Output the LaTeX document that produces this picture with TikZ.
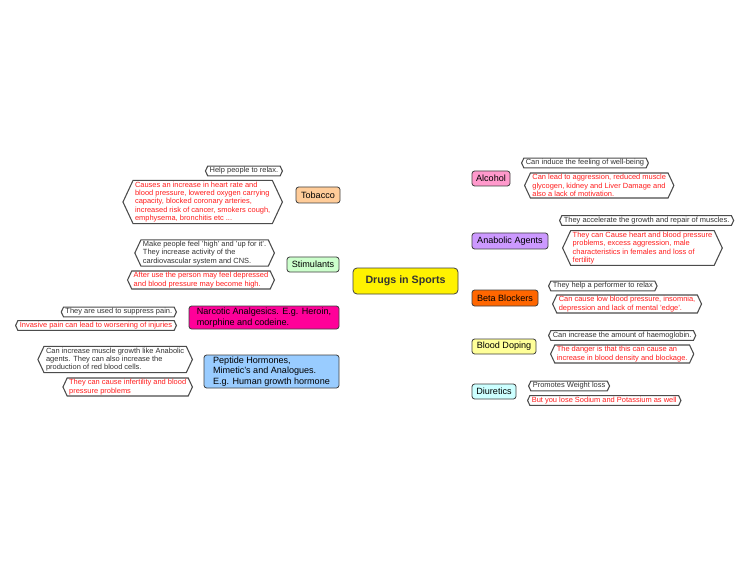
\documentclass[tikz,border=0pt]{standalone}
\usepackage{fontspec}
\setmainfont{Liberation Sans}
\usetikzlibrary{shapes.symbols,backgrounds}

\definecolor{tobacco}{RGB}{255,204,153}
\definecolor{stimul}{RGB}{204,255,204}
\definecolor{narcotic}{RGB}{255,0,153}
\definecolor{peptide}{RGB}{153,204,255}
\definecolor{alcohol}{RGB}{255,153,204}
\definecolor{anabolic}{RGB}{204,153,255}
\definecolor{beta}{RGB}{255,102,0}
\definecolor{doping}{RGB}{255,255,153}
\definecolor{diuretic}{RGB}{204,255,255}
\definecolor{badred}{RGB}{255,30,30}

\begin{document}
\begin{tikzpicture}[x = 0.75pt, y = -0.75pt,
    topic/.style = {draw = black!75, line width = 0.6pt, rounded corners = 2pt, inner sep = 1pt, font = \fontsize{6.8}{7.8}\selectfont, align = left},
    leaf/.style = {shape = signal, signal to = west and east, signal pointer angle = 130, draw = black!70, line width = 0.8pt, fill = white, inner xsep = 1.5pt, inner ysep = 1pt, font = \fontsize{5.6}{6.3}\selectfont, text = black!80, align = left},
    bad/.style = {leaf, text = badred},
    link/.style = {draw = black!80, line width = 0.5pt}]
    \useasboundingbox[fill = white] (0,0) rectangle (750,563);

    \node[topic, fill = yellow, rounded corners = 3pt, minimum width = 78.75pt, minimum height = 19.5pt, text = black!80, font = \bfseries\fontsize{8}{9}\selectfont] (D) at (405.5,281) {Drugs in Sports};

    \node[topic, fill = tobacco, minimum width = 33pt, minimum height = 12pt] (T) at (318,195) {Tobacco};
    \node[topic, fill = stimul, minimum width = 39pt, minimum height = 11.25pt] (S) at (313,264.5) {Stimulants};
    \node[topic, fill = narcotic, minimum width = 112.5pt, minimum height = 17.25pt] (N) at (264,317.5) {Narcotic Analgesics. E.g. Heroin,\\morphine and codeine.};
    \node[topic, fill = peptide, minimum width = 101.25pt, minimum height = 24.75pt] (P) at (271.5,371.5) {Peptide Hormones,\\Mimetic's and Analogues.\\E.g. Human growth hormone};
    \node[topic, fill = alcohol, minimum width = 28.5pt, minimum height = 11.25pt] (A) at (491,178.5) {Alcohol};
    \node[topic, fill = anabolic, minimum width = 57pt, minimum height = 12pt] (G) at (510,241) {Anabolic Agents};
    \node[topic, fill = beta, minimum width = 49.5pt, minimum height = 12pt] (B) at (505,298) {Beta Blockers};
    \node[topic, fill = doping, minimum width = 48pt, minimum height = 11.25pt] (O) at (504,346.5) {Blood Doping};
    \node[topic, fill = diuretic, minimum width = 33pt, minimum height = 11.25pt] (U) at (494,391.5) {Diuretics};

    \node[leaf, anchor = east] (T1) at (283,171) {Help people to relax.};
    \node[bad, anchor = east] (T2) at (283,202) {Causes an increase in heart rate and\\blood pressure, lowered oxygen carrying\\capacity, blocked coronary arteries,\\increased risk of cancer, smokers cough,\\emphysema, bronchitis etc ...};
    \node[leaf, anchor = east] (S1) at (275,253) {Make people feel 'high' and 'up for it'.\\ They increase activity of the\\cardiovascular system and CNS.};
    \node[bad, anchor = east] (S2) at (275,280) {After use the person may feel depressed\\and blood pressure may become high.};
    \node[leaf, anchor = east] (N1) at (177,312) {They are used to suppress pain.};
    \node[bad, anchor = east] (N2) at (177,325.5) {Invasive pain can lead to worsening of injuries};
    \node[leaf, anchor = east] (P1) at (193,359.5) {Can increase muscle growth like Anabolic\\agents. They can also increase the\\production of red blood cells.};
    \node[bad, anchor = east] (P2) at (193,387) {They can cause infertility and blood\\pressure problems};

    \node[leaf, anchor = west] (A1) at (521,163) {Can induce the feeling of well-being};
    \node[bad, anchor = west] (A2) at (524,185.5) {Can lead to aggression, reduced muscle\\glycogen, kidney and Liver Damage and\\also a lack of motivation.};
    \node[leaf, anchor = west] (G1) at (559,220.5) {They accelerate the growth and repair of muscles.};
    \node[bad, anchor = west] (G2) at (562,248) {They can Cause heart and blood pressure\\problems, excess aggression, male\\characteristics in females and loss of\\fertility};
    \node[leaf, anchor = west] (B1) at (548,286) {They help a performer to relax};
    \node[bad, anchor = west] (B2) at (552,304) {Can cause low blood pressure, insomnia,\\depression and lack of mental 'edge'.};
    \node[leaf, anchor = west] (O1) at (548,335.5) {Can increase the amount of haemoglobin.};
    \node[bad, anchor = west] (O2) at (550,354) {The danger is that this can cause an\\increase in blood density and blockage.};
    \node[leaf, anchor = west] (U1) at (528,386) {Promotes Weight loss};
    \node[bad, anchor = west] (U2) at (527,400.5) {But you lose Sodium and Potassium as well};

    \begin{scope}[on background layer]
        \foreach \t in {T,S,N,P}{
            \draw[link] (D.center) -- ([shift = {(4,0)}]\t.east) -- (\t.east);
            \coordinate (\t B) at ([shift = {(-8,0)}]\t.west);
            \draw[link] (\t.west) -- (\t B);
            \draw[link, rounded corners = 2pt] (\t1.east) -| (\t B) |- (\t2.east);
        }
        \foreach \t in {A,G,B,O,U}{
            \draw[link] (D.center) -- ([shift = {(-4,0)}]\t.west) -- (\t.west);
            \coordinate (\t B) at ([shift = {(9,0)}]\t.east);
            \draw[link] (\t.east) -- (\t B);
            \draw[link, rounded corners = 2pt] (\t1.west) -| (\t B) |- (\t2.west);
        }
    \end{scope}
\end{tikzpicture}
\end{document}
